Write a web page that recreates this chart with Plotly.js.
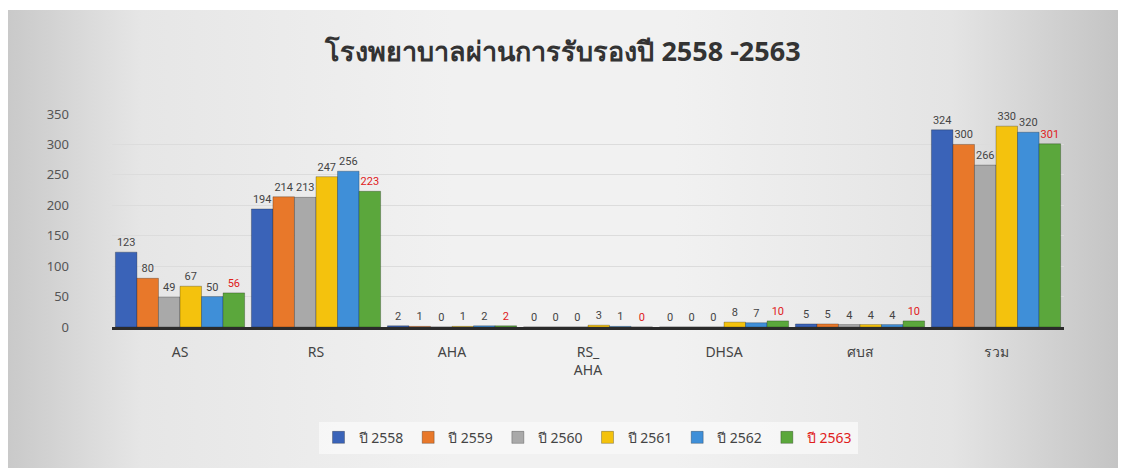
<!DOCTYPE html>
<html>
<head>
<meta charset="utf-8">
<script src="https://cdn.plot.ly/plotly-3.0.1.min.js"></script>
<style>
  html, body { margin: 0; padding: 0; background: #ffffff; }
  #frame {
    position: absolute; left: 8px; top: 10px; width: 1110px; height: 458px;
    background: linear-gradient(to right, #c9c9c9 0%, #e6e6e6 12%, #f1f1f1 40%, #f1f1f1 60%, #e4e4e4 85%, #c4c4c4 100%);
  }
  #chart { position: absolute; left: 0; top: 0; width: 1126px; height: 468px; }
</style>
</head>
<body>
<div id="frame"></div>
<div id="chart"></div>
<script>
const categories = ['AS', 'RS', 'AHA', 'RS_<br>AHA', 'DHSA', 'ศบส', 'รวม'];
const seriesNames = ['ปี 2558', 'ปี 2559', 'ปี 2560', 'ปี 2561', 'ปี 2562', '<span style="color:#e0201b">ปี 2563</span>'];
const v2558 = [123, 194, 2, 0, 0, 5, 324];
const v2559 = [80, 214, 1, 0, 0, 5, 300];
const v2560 = [49, 213, 0, 0, 0, 4, 266];
const v2561 = [67, 247, 1, 3, 8, 4, 330];
const v2562 = [50, 256, 2, 1, 7, 4, 320];
const v2563 = [56, 223, 2, 0, 10, 10, 301];
const seriesValues = [v2558, v2559, v2560, v2561, v2562, v2563];
const colors = ['#3a63b8', '#e8782a', '#a9a9a9', '#f4c20d', '#3f8fd8', '#5ba73c'];
const labelColors = ['#444', '#444', '#444', '#444', '#444', '#e0201b'];

const traces = seriesValues.map((vals, i) => ({
  type: 'bar',
  name: seriesNames[i],
  x: categories,
  y: vals,
  marker: { color: colors[i], line: { color: 'rgba(0,0,0,0.25)', width: 1 } },
  text: vals.map(String),
  textposition: 'outside',
  cliponaxis: false,
  textfont: { family: 'Roboto, Arial, sans-serif', size: 11, color: labelColors[i] },
  hoverinfo: 'x+y+name'
}));

const layout = {
  width: 1126, height: 468,
  paper_bgcolor: 'rgba(0,0,0,0)',
  plot_bgcolor: 'rgba(0,0,0,0)',
  margin: { l: 112, r: 62, t: 114, b: 141 },
  title: {
    text: '<b>โรงพยาบาลผ่านการรับรองปี 2558 -2563</b>',
    x: 0.5, xanchor: 'center', y: 0.89, yanchor: 'middle',
    font: { family: 'Noto Sans, Tahoma, sans-serif', size: 27, color: '#333333' }
  },
  barmode: 'group',
  bargap: 0.05,
  bargroupgap: 0,
  xaxis: {
    type: 'category',
    showline: true, linecolor: '#2b2b2b', linewidth: 3,
    ticks: '', showgrid: false,
    ticklabelstandoff: 10,
    tickfont: { family: 'Noto Sans, Arial, sans-serif', size: 14, color: '#444' }
  },
  yaxis: {
    range: [0, 350],
    dtick: 50,
    showgrid: true, gridcolor: '#dcdcdc', gridwidth: 1,
    zeroline: false,
    showline: false, ticks: '',
    ticklabelstandoff: 42,
    tickfont: { family: 'Noto Sans, Arial, sans-serif', size: 13, color: '#555' }
  },
  showlegend: true,
  legend: {
    orientation: 'h',
    x: 0.5, xanchor: 'center', y: -0.52, yanchor: 'middle',
    bgcolor: 'rgba(248,248,248,0.85)',
    font: { family: 'Noto Sans, Arial, sans-serif', size: 14, color: '#444' },
    itemwidth: 30,
    traceorder: 'normal'
  }
};

Plotly.newPlot('chart', traces, layout, { displayModeBar: false, responsive: false });
</script>
</body>
</html>
